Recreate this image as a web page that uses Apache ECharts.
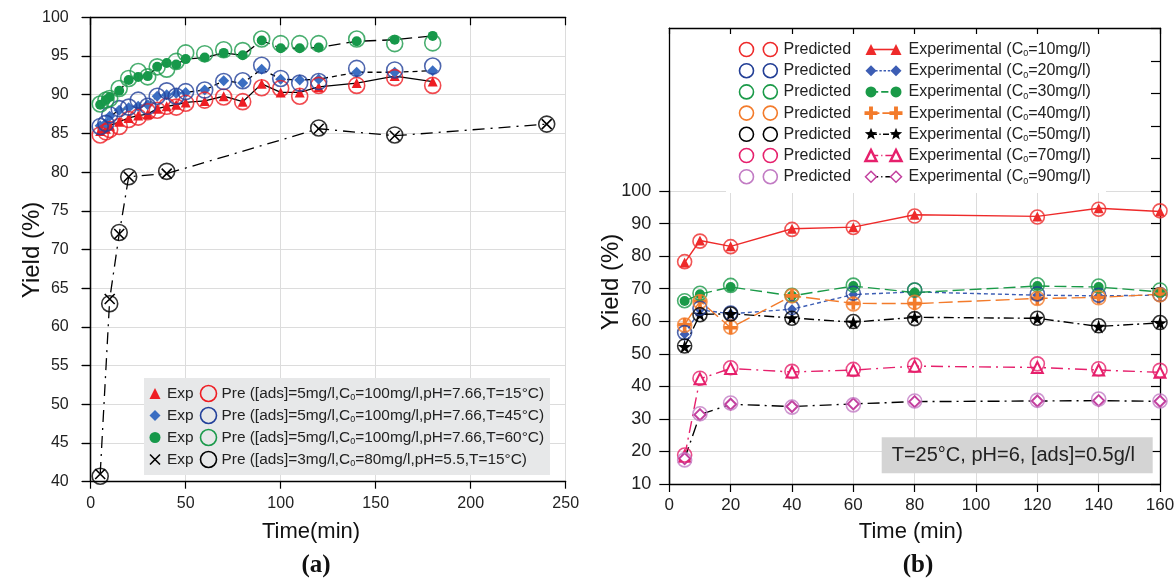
<!DOCTYPE html>
<html><head><meta charset="utf-8">
<script src="https://cdn.jsdelivr.net/npm/echarts@6/dist/echarts.min.js"></script>
<style>html,body{margin:0;padding:0;background:#fff}#c{width:1175px;height:584px}</style>
</head><body><div id="c"></div>
<script>
const FONT = '"Liberation Sans", Arial, Helvetica, sans-serif';

// ---------- chart (a) data ----------
const timeA = [5, 8, 10, 15, 20, 25, 30, 35, 40, 45, 50, 60, 70, 80, 90, 100, 110, 120, 140, 160, 180];
const expA15 = [85.3, 85.6, 86.0, 86.5, 87.0, 87.3, 87.5, 88.2, 88.5, 88.7, 89.0, 89.2, 89.8, 89.1, 91.4, 90.3, 90.3, 91.0, 91.5, 92.4, 91.7];
const preA15 = [84.8, 85.2, 85.5, 85.9, 86.8, 87.1, 87.8, 88.0, 88.5, 88.4, 88.9, 89.3, 89.7, 89.1, 90.9, 90.8, 89.8, 91.2, 91.2, 92.2, 91.2];
const expA45 = [86.0, 86.3, 87.2, 88.0, 88.3, 88.5, 88.7, 89.8, 90.0, 90.2, 90.3, 90.6, 91.8, 91.5, 93.3, 92.0, 91.9, 92.0, 92.9, 92.9, 93.1];
const preA45 = [85.9, 86.3, 87.4, 88.2, 88.4, 89.3, 88.5, 89.8, 90.5, 89.8, 90.4, 90.6, 91.7, 91.8, 93.8, 92.1, 91.5, 91.7, 93.4, 93.2, 93.7];
const expA60 = [88.7, 89.3, 89.7, 90.5, 91.9, 92.3, 92.4, 93.6, 94.1, 93.9, 94.6, 94.8, 95.4, 95.1, 97.0, 96.0, 96.0, 96.1, 96.9, 97.1, 97.6];
const preA60 = [88.8, 89.3, 89.5, 90.8, 92.1, 93.0, 92.3, 93.6, 93.3, 94.3, 95.4, 95.3, 95.8, 95.7, 97.2, 96.6, 96.6, 96.6, 97.2, 96.6, 96.7];
const timeA2 = [5, 10, 15, 20, 40, 120, 160, 240];
const expA2 = [41.0, 63.6, 72.0, 79.4, 79.8, 85.6, 84.7, 86.2];
const preA2 = [40.7, 63.0, 72.2, 79.4, 80.1, 85.7, 84.8, 86.2];
const ticksA_x = [0, 250, 50];
const ticksA_y = [40, 100, 5];

// ---------- chart (b) data ----------
const timeB = [5, 10, 20, 40, 60, 80, 120, 140, 160];
const preB10 = [78.3, 84.6, 82.9, 88.2, 88.8, 92.3, 92.0, 94.4, 93.9];
const expB10 = [78.0, 84.8, 83.0, 88.4, 88.9, 92.7, 92.2, 94.7, 93.7];
const preB20 = [56.5, 64.0, 62.5, 64.2, 68.6, 69.6, 68.4, 68.0, 68.2];
const expB20 = [56.0, 63.5, 62.3, 63.7, 68.2, 69.0, 68.0, 67.8, 68.0];
const preB30 = [66.3, 68.6, 71.0, 68.0, 71.1, 69.6, 71.2, 70.8, 69.6];
const expB30 = [66.2, 68.3, 70.5, 67.8, 70.8, 68.8, 70.8, 70.5, 69.0];
const preB40 = [58.8, 66.0, 58.2, 67.8, 65.3, 65.8, 67.0, 67.2, 68.1];
const expB40 = [59.0, 66.2, 58.0, 67.8, 65.5, 65.4, 67.0, 67.3, 68.3];
const preB50 = [52.4, 62.0, 62.2, 60.9, 59.9, 60.8, 60.9, 58.6, 59.6];
const expB50 = [52.2, 62.1, 62.3, 61.0, 59.7, 61.2, 60.9, 58.4, 59.5];
const preB70 = [18.9, 42.5, 45.7, 44.6, 45.2, 46.5, 46.9, 45.4, 44.9];
const expB70 = [18.5, 42.3, 45.5, 44.4, 45.0, 46.2, 45.8, 45.0, 44.3];
const preB90 = [17.4, 31.6, 34.9, 33.6, 34.3, 35.5, 35.7, 36.1, 35.5];
const expB90 = [17.8, 31.3, 34.5, 33.8, 34.6, 35.3, 35.5, 35.6, 35.4];
const concB = ['10', '20', '30', '40', '50', '70', '90'];
const ticksB_x = [0, 160, 20];
const ticksB_y = [10, 100, 10];
const frameB_ymax = 150;

// ---------- symbols ----------
const STAR = 'path://M50,0L61.2,34.5L97.6,34.5L68.2,55.9L79.4,90.5L50,69.1L20.6,90.5L31.8,55.9L2.4,34.5L38.8,34.5Z';
const PLUS = 'path://M36,0H64V36H100V64H64V100H36V64H0V36H36Z';
const XSYM = 'path://M0,0L100,100M100,0L0,100';

const zip = (xs, ys) => xs.map((x, i) => [x, ys[i]]);

// ---------- series styles ----------
const A = [
  {t: timeA, exp: expA15, pre: preA15, sym: 'triangle', ssz: 10, ec: '#ee1d23', pc: '#ee1d23', dash: 'solid', txt: 'Pre ([ads]=5mg/l,C{s|0}=100mg/l,pH=7.66,T=15°C)', lk: 'tri'},
  {t: timeA, exp: expA45, pre: preA45, sym: 'diamond', ssz: 11, ec: '#3b6ec2', pc: '#22409a', dash: [5, 4], txt: 'Pre ([ads]=5mg/l,C{s|0}=100mg/l,pH=7.66,T=45°C)', lk: 'dia'},
  {t: timeA, exp: expA60, pre: preA60, sym: 'circle', ssz: 10, ec: '#16984a', pc: '#1b9a4b', dash: [12, 6], txt: 'Pre ([ads]=5mg/l,C{s|0}=100mg/l,pH=7.66,T=60°C)', lk: 'dot'},
  {t: timeA2, exp: expA2, pre: preA2, sym: XSYM, ssz: 10, ec: '#000', pc: '#000', dash: [12, 6, 2, 6], txt: 'Pre ([ads]=3mg/l,C{s|0}=80mg/l,pH=5.5,T=15°C)', lk: 'x', stroke: true}
];
const B = [
  {exp: expB10, pre: preB10, sym: 'triangle', ssz: 10, ec: '#ee2a2a', pc: '#ee2a2a', lc: '#ee2a2a', dash: 'solid', lk: 'tri'},
  {exp: expB20, pre: preB20, sym: 'diamond', ssz: 10, ec: '#3c5db4', pc: '#233f96', lc: '#3c5db4', dash: [4, 3], lk: 'dia'},
  {exp: expB30, pre: preB30, sym: 'circle', ssz: 10, ec: '#1a9a48', pc: '#1a9a48', lc: '#1a9a48', dash: [12, 5], lk: 'dot'},
  {exp: expB40, pre: preB40, sym: PLUS, ssz: 13, ec: '#f37b2b', pc: '#f37b2b', lc: '#f37b2b', dash: [14, 5], lk: 'plus'},
  {exp: expB50, pre: preB50, sym: STAR, ssz: 14, ec: '#000', pc: '#000', lc: '#000', dash: [10, 4, 2, 4], lk: 'star'},
  {exp: expB70, pre: preB70, sym: 'emptyTriangle', ssz: 11, ec: '#e6206c', pc: '#e6206c', lc: '#e6206c', dash: [12, 5, 2, 5], lk: 'trih', bw: 2.5},
  {exp: expB90, pre: preB90, sym: 'emptyDiamond', ssz: 11, ec: '#c3409f', pc: '#c27cc4', lc: '#000', dash: [12, 5, 2, 5], lk: 'diah', bw: 1.5}
];

const series = [];
A.forEach((s) => {
  series.push({
    type: 'line', xAxisIndex: 0, yAxisIndex: 0, data: zip(s.t, s.exp),
    symbol: s.sym, symbolSize: s.ssz, showAllSymbol: true,
    itemStyle: s.stroke ? {color: '#000', borderColor: '#000', borderWidth: 1.6} : {color: s.ec},
    lineStyle: {color: '#000', width: 1.3, type: s.dash}, z: 3
  });
  series.push({
    type: 'scatter', xAxisIndex: 0, yAxisIndex: 0, data: zip(s.t, s.pre),
    symbol: 'circle', symbolSize: 16,
    itemStyle: {color: 'rgba(0,0,0,0)', borderColor: s.pc, borderWidth: 1.6}, z: 4
  });
});
B.forEach((s) => {
  series.push({
    type: 'line', xAxisIndex: 2, yAxisIndex: 2, data: zip(timeB, s.exp),
    symbol: s.sym, symbolSize: s.ssz, showAllSymbol: true,
    itemStyle: {color: s.ec, borderColor: s.ec, borderWidth: s.bw || 0},
    lineStyle: {color: s.lc, width: 1.4, type: s.dash}, z: 3
  });
  series.push({
    type: 'scatter', xAxisIndex: 2, yAxisIndex: 2, data: zip(timeB, s.pre),
    symbol: 'circle', symbolSize: 14,
    itemStyle: {color: 'rgba(0,0,0,0)', borderColor: s.pc, borderWidth: 1.6}, z: 4
  });
});

// ---------- legend graphics ----------
function shape(kind, cx, cy, s, color) {
  const h = s / 2;
  switch (kind) {
    case 'tri': return [{type: 'polygon', shape: {points: [[cx, cy - h], [cx + h, cy + h], [cx - h, cy + h]]}, style: {fill: color}}];
    case 'trih': return [{type: 'polygon', shape: {points: [[cx, cy - h], [cx + h, cy + h], [cx - h, cy + h]]}, style: {fill: '#fff', stroke: color, lineWidth: 2.5}}];
    case 'dia': return [{type: 'polygon', shape: {points: [[cx, cy - h], [cx + h, cy], [cx, cy + h], [cx - h, cy]]}, style: {fill: color}}];
    case 'diah': return [{type: 'polygon', shape: {points: [[cx, cy - h], [cx + h, cy], [cx, cy + h], [cx - h, cy]]}, style: {fill: '#fff', stroke: color, lineWidth: 1.5}}];
    case 'dot': return [{type: 'circle', shape: {cx, cy, r: h}, style: {fill: color}}];
    case 'ring': return [{type: 'circle', shape: {cx, cy, r: h}, style: {fill: 'none', stroke: color, lineWidth: 1.6}}];
    case 'x': return [
      {type: 'line', shape: {x1: cx - h, y1: cy - h, x2: cx + h, y2: cy + h}, style: {stroke: color, lineWidth: 1.6}},
      {type: 'line', shape: {x1: cx + h, y1: cy - h, x2: cx - h, y2: cy + h}, style: {stroke: color, lineWidth: 1.6}}];
    case 'plus': {
      const w = s * 0.15;
      return [{type: 'polygon', shape: {points: [[cx - w, cy - h], [cx + w, cy - h], [cx + w, cy - w], [cx + h, cy - w], [cx + h, cy + w], [cx + w, cy + w], [cx + w, cy + h], [cx - w, cy + h], [cx - w, cy + w], [cx - h, cy + w], [cx - h, cy - w], [cx - w, cy - w]]}, style: {fill: color}}];
    }
    case 'star': {
      const pts = [];
      for (let k = 0; k < 10; k++) {
        const a = -Math.PI / 2 + k * Math.PI / 5, r = k % 2 ? h * 0.42 : h;
        pts.push([cx + r * Math.cos(a), cy + r * Math.sin(a)]);
      }
      return [{type: 'polygon', shape: {points: pts}, style: {fill: color}}];
    }
  }
  return [];
}
const sub = {s: {fontSize: 9, padding: [9, 0, 0, 0], fontFamily: FONT, fill: '#222'}};
function txt(x, y, text, size) {
  return {type: 'text', x, y, style: {text, fontSize: size, fontFamily: FONT, fill: '#222', align: 'left', verticalAlign: 'middle', textAlign: 'left', textVerticalAlign: 'middle', rich: sub}};
}

const graphics = [];
// legend (a)
graphics.push({type: 'rect', shape: {x: 144, y: 378, width: 406, height: 97}, style: {fill: '#e7e8e9'}});
A.forEach((s, i) => {
  const y = 393.5 + i * 22;
  shape(s.lk, 155, y, s.lk === 'x' ? 10 : 11, s.ec).forEach(e => graphics.push(e));
  graphics.push(txt(167, y, 'Exp', 15.4));
  shape('ring', 208.5, y, 16, s.pc).forEach(e => graphics.push(e));
  graphics.push(txt(221.5, y, s.txt, 15.4));
});
// legend (b)
graphics.push({type: 'rect', shape: {x: 726, y: 34, width: 380, height: 159}, style: {fill: '#fff'}});
B.forEach((s, i) => {
  const y = 49.5 + i * 21.2;
  shape('ring', 746.5, y, 14, s.pc).forEach(e => graphics.push(e));
  shape('ring', 770.3, y, 14, s.pc).forEach(e => graphics.push(e));
  graphics.push(txt(783.5, y, 'Predicted', 16));
  graphics.push({type: 'line', shape: {x1: 871, y1: y, x2: 896, y2: y}, style: {stroke: s.lc, lineWidth: 1.6, lineDash: Array.isArray(s.dash) ? s.dash.map(v => v * 0.6) : null}});
  const sk = s.lk;
  const ss = sk === 'star' || sk === 'plus' ? 13 : 11;
  shape(sk, 871, y, ss, s.ec).forEach(e => graphics.push(e));
  shape(sk, 896, y, ss, s.ec).forEach(e => graphics.push(e));
  graphics.push(txt(908.5, y, 'Experimental (C{s|0}=' + concB[i] + 'mg/l)', 16));
});
// annotation (b)
graphics.push({type: 'rect', shape: {x: 881.7, y: 437.3, width: 271, height: 36}, style: {fill: '#d4d4d4'}});
graphics.push(txt(891.7, 455.5, 'T=25°C, pH=6, [ads]=0.5g/l', 20));
// axis titles & panel labels
function ctext(x, y, text, size, rot, fam, weight) {
  return {type: 'text', x, y, rotation: rot || 0, style: {text, fontSize: size, fontFamily: fam || FONT, fontWeight: weight || 'normal', fill: '#111', align: 'center', verticalAlign: 'middle', textAlign: 'center', textVerticalAlign: 'middle'}};
}
graphics.push(ctext(32, 250, 'Yield (%)', 24, Math.PI / 2));
graphics.push(ctext(311, 532, 'Time(min)', 22));
graphics.push(ctext(316, 566, '(a)', 25, 0, '"Liberation Serif", "Times New Roman", serif', 'bold'));
graphics.push(ctext(611, 282, 'Yield (%)', 24, Math.PI / 2));
graphics.push(ctext(911, 532, 'Time (min)', 22));
graphics.push(ctext(918, 566, '(b)', 25, 0, '"Liberation Serif", "Times New Roman", serif', 'bold'));
graphics.forEach(g => { g.z = 20; });

// ---------- axes ----------
const axLine = {show: true, lineStyle: {color: '#000', width: 1.3}};
const grid = {show: false, containLabel: false, outerBoundsMode: 'none'};
const split = {show: true, lineStyle: {color: '#dcdcdc', width: 1}};
const lab = (size, margin) => ({show: true, fontSize: size, margin, color: '#222', fontFamily: FONT});
const tick = (inside, len) => ({show: true, inside, length: len, lineStyle: {color: '#000', width: 1.2}});
const none = {show: false};

const option = {
  animation: false,
  backgroundColor: '#fff',
  grid: [
    Object.assign({left: 90.7, top: 17.3, width: 475, height: 464.4}, grid),
    Object.assign({left: 669.3, top: 191, width: 490.7, height: 293}, grid),
    Object.assign({left: 669.3, top: 28.2, width: 490.7, height: 455.8}, grid)
  ],
  xAxis: [
    {gridIndex: 0, type: 'value', position: 'bottom', min: ticksA_x[0], max: ticksA_x[1], interval: ticksA_x[2], axisLine: axLine, axisTick: tick(false, 7), axisLabel: lab(16, 14), splitLine: split},
    {gridIndex: 0, type: 'value', position: 'top', min: ticksA_x[0], max: ticksA_x[1], interval: ticksA_x[2], axisLine: axLine, axisTick: tick(true, 8), axisLabel: none, splitLine: none},
    {gridIndex: 1, type: 'value', position: 'bottom', min: ticksB_x[0], max: ticksB_x[1], interval: ticksB_x[2], axisLine: axLine, axisTick: tick(false, 8), axisLabel: lab(17, 13), splitLine: split},
    {gridIndex: 2, type: 'value', position: 'top', min: ticksB_x[0], max: ticksB_x[1], interval: ticksB_x[2], axisLine: axLine, axisTick: tick(true, 6), axisLabel: none, splitLine: none}
  ],
  yAxis: [
    {gridIndex: 0, type: 'value', position: 'left', min: ticksA_y[0], max: ticksA_y[1], interval: ticksA_y[2], axisLine: axLine, axisTick: tick(false, 9), axisLabel: lab(16, 22), splitLine: split},
    {gridIndex: 0, type: 'value', position: 'right', min: ticksA_y[0], max: ticksA_y[1], interval: ticksA_y[2], axisLine: axLine, axisTick: tick(true, 9), axisLabel: none, splitLine: none},
    {gridIndex: 1, type: 'value', position: 'left', min: ticksB_y[0], max: ticksB_y[1], interval: ticksB_y[2], axisLine: axLine, axisTick: tick(false, 10), axisLabel: lab(18, 18), splitLine: split},
    {gridIndex: 2, type: 'value', position: 'left', min: ticksB_y[0], max: frameB_ymax, interval: ticksB_y[2], axisLine: axLine, axisTick: none, axisLabel: none, splitLine: none},
    {gridIndex: 2, type: 'value', position: 'right', min: ticksB_y[0], max: frameB_ymax, interval: ticksB_y[2], axisLine: axLine, axisTick: tick(true, 9), axisLabel: none, splitLine: none}
  ],
  series,
  graphic: graphics
};
const chart = echarts.init(document.getElementById('c'), null, {renderer: 'canvas'});
chart.setOption(option);
</script>
</body></html>
